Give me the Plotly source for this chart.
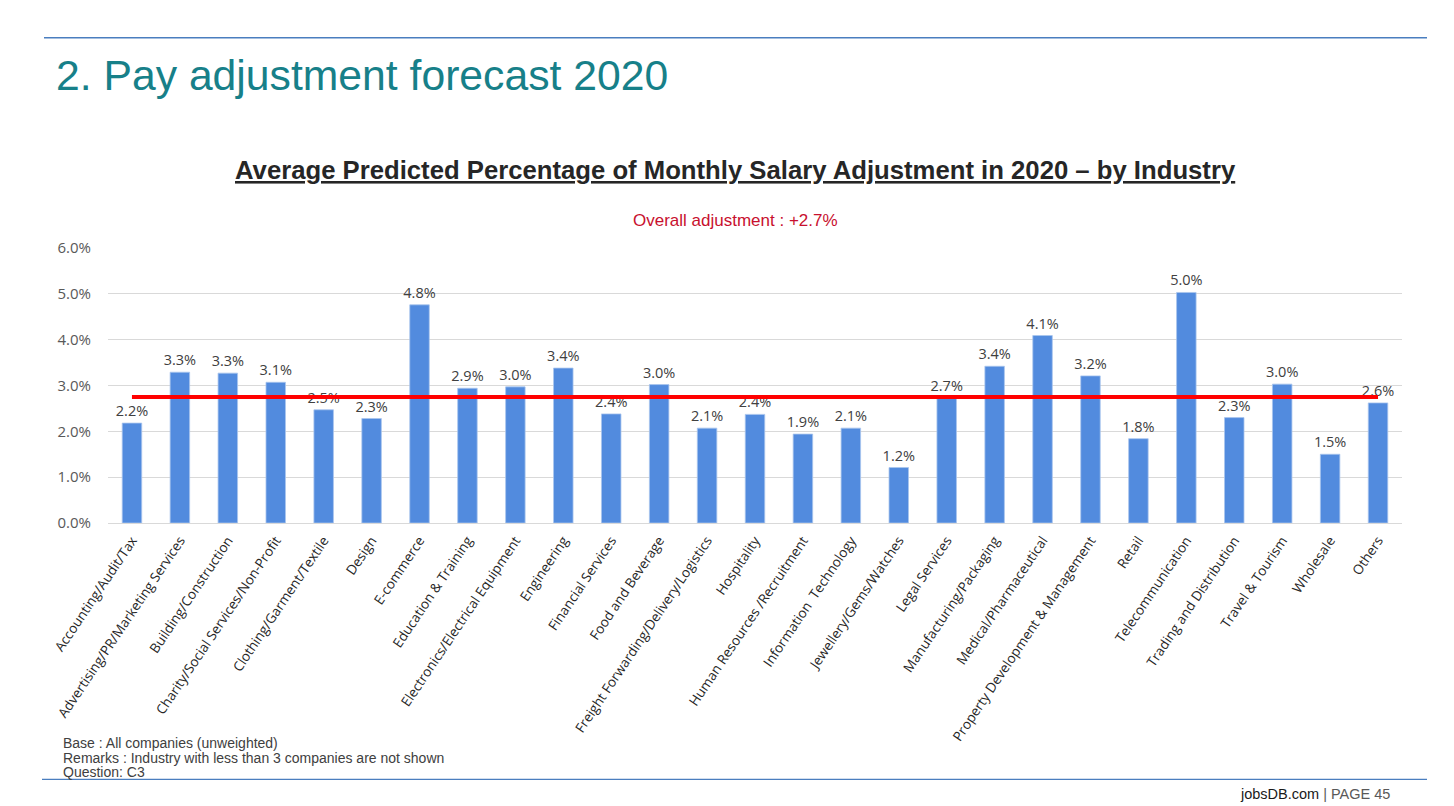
import plotly.graph_objects as go

# ---------------- data ----------------
industries = [
    "Accounting/Audit/Tax",
    "Advertising/PR/Marketing Services",
    "Building/Construction",
    "Charity/Social Services/Non-Profit",
    "Clothing/Garment/Textile",
    "Design",
    "E-commerce",
    "Education & Training",
    "Electronics/Electrical Equipment",
    "Engineering",
    "Financial Services",
    "Food and Beverage",
    "Freight Forwarding/Delivery/Logistics",
    "Hospitality",
    "Human Resources /Recruitment",
    "Information  Technology",
    "Jewellery/Gems/Watches",
    "Legal Services",
    "Manufacturing/Packaging",
    "Medical/Pharmaceutical",
    "Property Development & Management",
    "Retail",
    "Telecommunication",
    "Trading and Distribution",
    "Travel & Tourism",
    "Wholesale",
    "Others",
]
adjustment_pct = [
    2.18, 3.29, 3.27, 3.07, 2.47, 2.28, 4.76, 2.94, 2.97, 3.38,
    2.38, 3.02, 2.07, 2.37, 1.94, 2.07, 1.21, 2.72, 3.42, 4.09,
    3.21, 1.84, 5.03, 2.30, 3.03, 1.50, 2.62,
]
overall_line_level = 2.75
overall_label = "Overall adjustment : +2.7%"
y_ticks = [0, 1, 2, 3, 4, 5, 6]
y_tick_labels = ["%.1f%%" % v for v in y_ticks]

page_title = "2. Pay adjustment forecast 2020"
chart_title = "Average Predicted Percentage of Monthly Salary Adjustment in 2020 \u2013 by Industry"
footnotes = [
    "Base : All companies (unweighted)",
    "Remarks : Industry with less than 3 companies are not shown",
    "Question: C3",
]

# ---------------- layout geometry ----------------
W, H = 1454, 806
PL, PR, PT, PB = 108, 1402, 248, 523.3


def px(x):
    return (x - PL) / (PR - PL)


def py(y):
    return (PB - y) / (PB - PT)


fig = go.Figure()

fig.add_trace(go.Bar(
    x=industries,
    y=adjustment_pct,
    marker=dict(color="#528BDE", line=dict(color="#A9C5EE", width=0.8)),
    texttemplate="%{y:.1f}%",
    textposition="outside",
    constraintext="none",
    cliponaxis=False,
    textfont=dict(family="Open Sans", size=14.5, color="#404040"),
    hoverinfo="x+y",
))

fig.add_trace(go.Scatter(
    x=[industries[0], industries[-1]],
    y=[overall_line_level, overall_line_level],
    mode="lines",
    line=dict(color="#FF0000", width=4),
    hoverinfo="skip",
))

shapes = [
    dict(type="line", xref="paper", yref="paper",
         x0=px(44), x1=px(1427), y0=py(37.5), y1=py(37.5),
         line=dict(color="#4A7EBF", width=1.3)),
    dict(type="line", xref="paper", yref="paper",
         x0=px(42), x1=px(1427), y0=py(780), y1=py(780),
         line=dict(color="#4A7EBF", width=1.3)),
]

annotations = [
    dict(text=page_title, xref="paper", yref="paper",
         x=px(54), y=py(75), xanchor="left", yanchor="middle", showarrow=False,
         font=dict(family="Liberation Sans", size=42.7, color="#178089")),
    dict(text="<b>" + chart_title + "</b>", xref="paper", yref="paper",
         x=px(735), y=py(170), xanchor="center", yanchor="middle", showarrow=False,
         font=dict(family="Liberation Sans", size=25.7, color="#262626", lineposition="under")),
    dict(text=overall_label, xref="paper", yref="paper",
         x=px(735), y=py(220), xanchor="center", yanchor="middle", showarrow=False,
         font=dict(family="Liberation Sans", size=17, color="#C8102E")),
    dict(text="jobsDB.com <span style='color:#595959'>| PAGE 45</span>", xref="paper", yref="paper",
         x=px(1392), y=py(795), xanchor="right", yanchor="middle", showarrow=False,
         font=dict(family="Liberation Sans", size=14.5, color="#1A1A1A")),
]
for i, note in enumerate(footnotes):
    annotations.append(dict(
        text=note, xref="paper", yref="paper",
        x=px(61), y=py(744 + i * 14.5), xanchor="left", yanchor="middle", showarrow=False,
        font=dict(family="Liberation Sans", size=14, color="#404040")))

fig.update_layout(
    width=W, height=H, autosize=False,
    margin=dict(l=PL, r=W - PR, t=PT, b=H - PB, pad=0),
    paper_bgcolor="white", plot_bgcolor="white",
    showlegend=False,
    bargap=0.593,
    shapes=shapes,
    annotations=annotations,
    xaxis=dict(
        tickangle=-56,
        tickfont=dict(family="Open Sans", size=13.5, color="#262626"),
        showgrid=False, zeroline=False, showline=False, ticks="",
        ticklabelstandoff=6,
        fixedrange=True,
    ),
    yaxis=dict(
        range=[0, 6], tickmode="array", tickvals=y_ticks, ticktext=y_tick_labels,
        tickfont=dict(family="Open Sans", size=15, color="#595959"),
        showgrid=True, gridcolor="#D9D9D9", gridwidth=1,
        zeroline=True, zerolinecolor="#D9D9D9", zerolinewidth=1,
        showline=False, ticks="", ticklabelstandoff=16,
        fixedrange=True,
    ),
)

fig.write_html("out.html")
